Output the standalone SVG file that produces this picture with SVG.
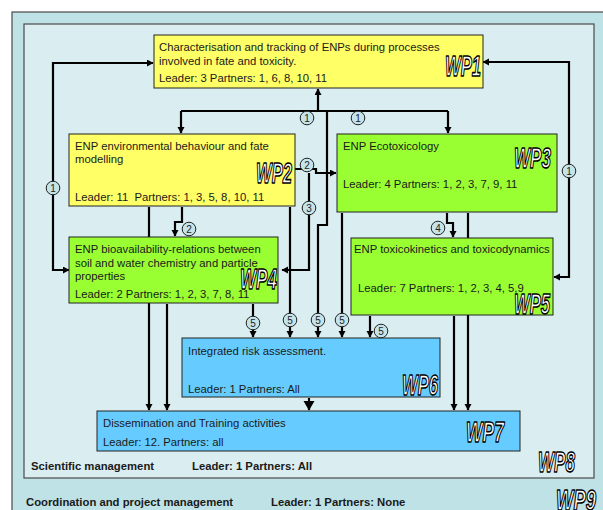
<svg xmlns="http://www.w3.org/2000/svg" width="603" height="510" viewBox="0 0 603 510">
  <style>
    .t { font-family: "Liberation Sans", Arial, sans-serif; font-size: 11.3px; fill: #1a1a1a; }
    .b { font-family: "Liberation Sans", Arial, sans-serif; font-size: 11.3px; font-weight: bold; fill: #1a1a1a; }
    .wp { font-family: "Liberation Sans Narrow", "Liberation Sans", Arial, sans-serif; font-size: 30px; font-weight: bold; font-style: italic; fill: #ffffff; stroke: #000000; stroke-width: 1.6; stroke-linejoin: round; }
    .box { stroke: #222222; stroke-width: 1; }
    .yellow { fill: #ffff66; }
    .green { fill: #99ff33; }
    .blue { fill: #66ccff; }
    .ln { fill: none; stroke: #000000; stroke-width: 2.2; }
    .num circle { fill: #c5e4ea; stroke: #222222; stroke-width: 1; }
    .num text { font-family: "Liberation Sans", Arial, sans-serif; font-size: 10px; fill: #222222; text-anchor: middle; }
  </style>
  <defs>
    <marker id="ah" markerUnits="userSpaceOnUse" markerWidth="8" markerHeight="8" refX="6" refY="3.5" orient="auto-start-reverse">
      <path d="M0,0 L6.5,3.5 L0,7 Z" fill="#000000"/>
    </marker>
    <marker id="ahBig" markerUnits="userSpaceOnUse" markerWidth="12" markerHeight="12" refX="9" refY="5.5" orient="auto">
      <path d="M0,0 L9.5,5.5 L0,11 Z" fill="#000000"/>
    </marker>
  </defs>

  <!-- WP9: coordination frame -->
  <g id="wp9">
    <rect x="12" y="12" width="600" height="510" fill="#bfe2e6" stroke="#4a4a4a" stroke-width="1.2"/>
    <text class="b" x="26" y="506">Coordination and project management</text>
    <text class="b" x="271" y="506">Leader: 1 Partners: None</text>
    <text class="wp" x="556" y="510" textLength="40" lengthAdjust="spacingAndGlyphs">WP9</text>
  </g>

  <!-- WP8: scientific management frame -->
  <g id="wp8">
    <rect x="24" y="24" width="570" height="454" fill="#daeef1" stroke="#4a4a4a" stroke-width="1.2"/>
    <text class="b" x="31" y="470">Scientific management</text>
    <text class="b" x="192" y="470">Leader: 1 Partners: All</text>
    <text class="wp" x="538" y="472" textLength="37" lengthAdjust="spacingAndGlyphs">WP8</text>
  </g>

  <!-- connectors -->
  <g id="connectors">
    <!-- WP1 hub -->
    <path class="ln" d="M318,111 V89" marker-end="url(#ah)"/>
    <path class="ln" d="M181,111 H448"/>
    <path class="ln" d="M181,111 V133" marker-end="url(#ah)"/>
    <path class="ln" d="M448,111 V133" marker-end="url(#ah)"/>
    <path class="ln" d="M327,111 V225 H318 V337" marker-end="url(#ah)"/>
    <!-- outer loops back to WP1 -->
    <path class="ln" d="M69,270 H53 V63 H153" marker-start="url(#ah)" marker-end="url(#ah)"/>
    <path class="ln" d="M554,277 H569 V62 H483" marker-start="url(#ah)" marker-end="url(#ah)"/>
    <!-- WP2 outputs -->
    <path class="ln" d="M295,169 H316 V173 H336" marker-end="url(#ah)"/>
    <path class="ln" d="M309,173 V270 H282" marker-end="url(#ah)"/>
    <path class="ln" d="M182,207 V222 H175 V236" marker-end="url(#ah)"/>
    <path class="ln" d="M149,207 V410" marker-end="url(#ah)"/>
    <path class="ln" d="M290,207 V337" marker-end="url(#ah)"/>
    <!-- WP3 outputs -->
    <path class="ln" d="M342,213 V337" marker-end="url(#ah)"/>
    <path class="ln" d="M447,213 V223 H453 V237" marker-end="url(#ah)"/>
    <path class="ln" d="M468,213 V410" marker-end="url(#ah)"/>
    <!-- WP4 outputs -->
    <path class="ln" d="M167,304 V410" marker-end="url(#ah)"/>
    <path class="ln" d="M253,304 V337" marker-end="url(#ah)"/>
    <!-- WP5 outputs -->
    <path class="ln" d="M370,316 V337" marker-end="url(#ah)"/>
    <path class="ln" d="M454,316 V410" marker-end="url(#ah)"/>
    <!-- WP6 to WP7 -->
    <path class="ln" d="M309,398 V410" marker-end="url(#ahBig)"/>
  </g>

  <!-- WP1 -->
  <g id="wp1">
    <rect class="box yellow" x="154" y="35" width="329" height="53"/>
    <text class="t" x="159" y="51">Characterisation and tracking of ENPs during processes</text>
    <text class="t" x="159" y="65">involved in fate and toxicity.</text>
    <text class="t" x="159" y="82">Leader: 3 Partners: 1, 6, 8, 10, 11</text>
    <text class="wp" x="445" y="76" textLength="36" lengthAdjust="spacingAndGlyphs">WP1</text>
  </g>

  <!-- WP2 -->
  <g id="wp2">
    <rect class="box yellow" x="69" y="134" width="226" height="72"/>
    <text class="t" x="75" y="150">ENP environmental behaviour and fate</text>
    <text class="t" x="75" y="163">modelling</text>
    <text class="t" x="75" y="201">Leader: 11&#160; Partners: 1, 3, 5, 8, 10, 11</text>
    <text class="wp" x="256" y="183" textLength="36" lengthAdjust="spacingAndGlyphs">WP2</text>
  </g>

  <!-- WP3 -->
  <g id="wp3">
    <rect class="box green" x="337" y="134" width="220" height="78"/>
    <text class="t" x="343" y="150">ENP Ecotoxicology</text>
    <text class="t" x="343" y="188">Leader: 4 Partners: 1, 2, 3, 7, 9, 11</text>
    <text class="wp" x="514" y="168" textLength="37" lengthAdjust="spacingAndGlyphs">WP3</text>
  </g>

  <!-- WP4 -->
  <g id="wp4">
    <rect class="box green" x="69" y="237" width="209" height="66"/>
    <text class="t" x="75" y="253">ENP bioavailability-relations between</text>
    <text class="t" x="75" y="267">soil and water chemistry and particle</text>
    <text class="t" x="75" y="280">properties</text>
    <text class="t" x="75" y="298">Leader: 2 Partners: 1, 2, 3, 7, 8, 11</text>
    <text class="wp" x="240" y="289" textLength="37" lengthAdjust="spacingAndGlyphs">WP4</text>
  </g>

  <!-- WP5 -->
  <g id="wp5">
    <rect class="box green" x="351" y="238" width="202" height="77"/>
    <text class="t" x="354" y="253">ENP toxicokinetics and toxicodynamics</text>
    <text class="t" x="358" y="292">Leader: 7 Partners: 1, 2, 3, 4, 5,9</text>
    <text class="wp" x="514" y="314" textLength="36" lengthAdjust="spacingAndGlyphs">WP5</text>
  </g>

  <!-- WP6 -->
  <g id="wp6">
    <rect class="box blue" x="182" y="338" width="258" height="59"/>
    <text class="t" x="188" y="355">Integrated risk assessment.</text>
    <text class="t" x="188" y="393">Leader: 1 Partners: All</text>
    <text class="wp" x="402" y="395" textLength="36" lengthAdjust="spacingAndGlyphs">WP6</text>
  </g>

  <!-- WP7 -->
  <g id="wp7">
    <rect class="box blue" x="97" y="411" width="423" height="40"/>
    <text class="t" x="103" y="427">Dissemination and Training activities</text>
    <text class="t" x="103" y="446">Leader: 12. Partners: all</text>
    <text class="wp" x="466" y="442" textLength="38" lengthAdjust="spacingAndGlyphs">WP7</text>
  </g>

  <!-- connector numbers -->
  <g id="labels">
    <g class="num"><circle cx="307" cy="118" r="6.8"/><text x="307" y="121.6">1</text></g>
    <g class="num"><circle cx="358" cy="118" r="6.8"/><text x="358" y="121.6">1</text></g>
    <g class="num"><circle cx="53" cy="188" r="6.8"/><text x="53" y="191.6">1</text></g>
    <g class="num"><circle cx="569" cy="171" r="6.8"/><text x="569" y="174.6">1</text></g>
    <g class="num"><circle cx="307" cy="165" r="6.8"/><text x="307" y="168.6">2</text></g>
    <g class="num"><circle cx="309" cy="208" r="6.8"/><text x="309" y="211.6">3</text></g>
    <g class="num"><circle cx="189" cy="229" r="6.8"/><text x="189" y="232.6">2</text></g>
    <g class="num"><circle cx="438" cy="228" r="6.8"/><text x="438" y="231.6">4</text></g>
    <g class="num"><circle cx="253" cy="323" r="6.8"/><text x="253" y="326.6">5</text></g>
    <g class="num"><circle cx="290" cy="320" r="6.8"/><text x="290" y="323.6">5</text></g>
    <g class="num"><circle cx="318" cy="320" r="6.8"/><text x="318" y="323.6">5</text></g>
    <g class="num"><circle cx="342" cy="320" r="6.8"/><text x="342" y="323.6">5</text></g>
    <g class="num"><circle cx="381" cy="331" r="6.8"/><text x="381" y="334.6">5</text></g>
  </g>
</svg>
